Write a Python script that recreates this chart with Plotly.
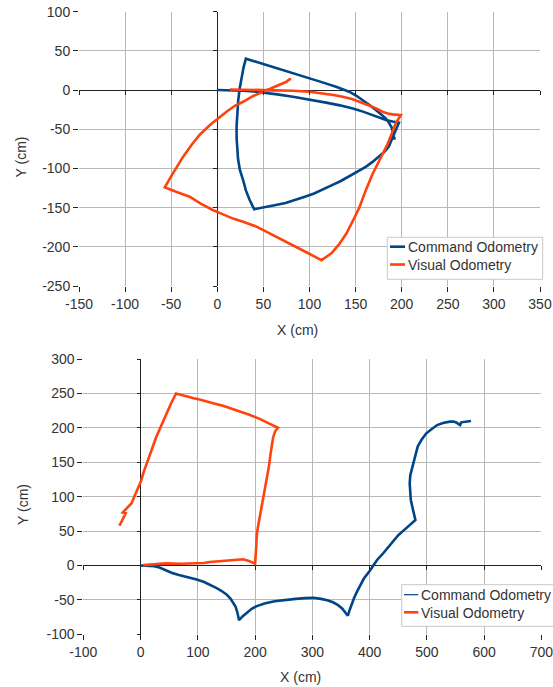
import plotly.graph_objects as go

# ---------------- data (cm) ----------------
# Top chart: Command odometry
cmd1_x = [0, 15, 28, 40, 50, 65, 82, 100, 118, 133, 147, 158, 168, 176, 183, 190, 197,
          195, 193, 189, 186, 181, 175.5, 168, 161, 152, 143, 134, 125, 115, 105, 95, 85, 74, 62, 50, 40,
          35, 31, 28, 24.5, 22.5, 21.6, 21, 20.9, 21.5, 22.7, 24.3, 26.3, 28.5, 31,
          48, 64, 82, 100, 115, 128.8, 143, 150.5, 157.6, 165, 172, 177.5, 182.7, 186, 189, 190.5,
          191.7, 193.5]
cmd1_y = [0, 0, -0.8, -1.8, -3, -5.5, -8.5, -12, -16, -19.5, -23.4, -27.5, -31.9, -35, -38.2, -40.2, -41.6,
          -47, -53, -63, -72, -79, -85, -92, -98, -104, -110.5, -116, -121, -127, -132, -136, -140, -144, -147,
          -150, -152,
          -140, -128, -115, -102, -88, -76.5, -62, -46.7, -30, -12.7, 2, 17, 29, 40,
          34, 27.6, 21.3, 14.9, 9.5, 4.2, -2.1, -7, -12.7, -19, -25.5, -30.5, -36, -41.5, -47.6, -54,
          -61.6, -61.6]
# Top chart: Visual odometry
vis1_x = [13.7, 30, 46, 64, 82, 100, 114, 126, 136, 146, 154, 162, 168, 174, 179, 185, 190, 199,
          196, 193.5, 189, 185, 180, 174, 168, 161, 154, 147, 140, 132, 124, 118, 113,
          95, 78, 60, 42, 28, 17, 5, -5, -18, -30, -44, -57,
          -48, -37, -28, -19, -8, 2, 10, 19, 28, 38, 49.6, 57, 64, 69, 75, 78, 80]
vis1_y = [0.8, 0.5, 0, -0.3, -0.8, -2.2, -4.2, -6.2, -8.5, -11.5, -14.9, -18.3, -21.2, -24.5, -27.6,
          -29.8, -31, -32,
          -37, -42.5, -56, -68, -80, -94, -108, -128, -150, -167, -183, -197, -208, -213, -217,
          -206, -196, -185, -174, -168, -164, -158, -153, -145, -136, -130, -124,
          -106, -85, -70, -57, -44.6, -35, -27.6, -20, -14.9, -8, -2.1, 1, 4.2, 7.2, 10.6, 13.6, 14.5]

# Bottom chart: Command odometry
cmd2_x = [0, 12, 24, 33, 43, 55, 67, 82, 98, 111, 123, 133, 141, 150, 157, 162, 166, 169, 172,
          178, 185, 194, 203, 218, 234, 252, 271, 287, 302, 315, 326, 336, 345, 352, 357, 362,
          365, 368, 373, 378, 382, 390, 401, 413, 422, 431, 440, 450, 465, 480,
          476, 472, 471, 470, 471, 475, 479, 484, 491, 499, 508, 518, 528, 540, 547, 552, 556, 558,
          560, 566, 577]
cmd2_y = [0, 0, -1, -3, -7, -11, -14, -17, -20.4, -24, -28.6, -33, -36.8, -42, -48, -54, -60, -68, -79.5,
          -74, -68.8, -63, -59, -55, -52, -50, -48.5, -47.5, -47, -48.5, -50.4, -53.5, -57.7, -62.5, -67.4,
          -73,
          -65, -57, -47, -38, -31, -19, -7, 8, 16, 25, 34, 44, 55, 66,
          80, 95, 107, 119, 131, 143, 158, 173, 183, 192, 198, 204, 207, 209, 209, 207.5, 205, 204,
          208, 209, 210]
# Bottom chart: Visual odometry
vis2_x = [5, 20, 45, 70, 91, 110, 121, 140, 161, 172, 179, 188, 200,
          202, 203, 205, 208, 211, 215, 220, 224, 227, 231.5, 235, 240,
          225, 208, 190, 173, 158, 144, 135, 126.5, 115, 103, 93, 83, 73, 62,
          53, 45, 36, 27, 19, 10, 5, 1, -4, -8, -12, -16, -22, -28, -31, -26, -29, -33, -37]
vis2_y = [0.5, 1.5, 3, 2.5, 2.5, 3.5, 5, 6, 7, 8.5, 9, 7, 2.5,
          27, 45, 56, 70, 85, 104, 123, 143, 162, 186, 195, 200,
          206, 213, 219, 224, 229, 232, 234, 236, 239, 241, 243, 245, 247, 250,
          235, 220, 203, 186, 167, 148, 135, 123, 113, 104, 96, 90, 85, 80, 77, 76, 70, 64, 58]

series_names = ["Command Odometry", "Visual Odometry"]
top_xticks = list(range(-150, 351, 50))
top_yticks = list(range(-250, 101, 50))
bot_xticks = list(range(-100, 701, 100))
bot_yticks = list(range(-100, 301, 50))

# ---------------- style ----------------
W, H = 553, 687
BLUE = "#004586"
ORANGE = "#ff420e"
GRID = "#b8b8b8"
TXT = "#333333"
FONT = "Liberation Sans, Arial, sans-serif"


def px(x):
    """page pixel x -> paper fraction"""
    return x / W


def py(y):
    """page pixel y -> paper fraction"""
    return 1 - y / H


top_xdom = [px(79), px(540)]
top_ydom = [py(286), py(11.7)]
bot_xdom = [px(83.3), px(541.4)]
bot_ydom = [py(634.3), py(359)]

top_xr = [top_xticks[0], top_xticks[-1]]
top_yr = [top_yticks[0], top_yticks[-1]]
bot_xr = [bot_xticks[0], bot_xticks[-1]]
bot_yr = [bot_yticks[0], bot_yticks[-1]]


def zero_pos(dom, rng):
    return dom[0] + (0 - rng[0]) / (rng[1] - rng[0]) * (dom[1] - dom[0])


fig = go.Figure()
lw = 2.6
fig.add_trace(go.Scatter(x=cmd1_x, y=cmd1_y, mode="lines", name=series_names[0],
                         line=dict(color=BLUE, width=lw), xaxis="x", yaxis="y", showlegend=False))
fig.add_trace(go.Scatter(x=vis1_x, y=vis1_y, mode="lines", name=series_names[1],
                         line=dict(color=ORANGE, width=lw), xaxis="x", yaxis="y", showlegend=False))
fig.add_trace(go.Scatter(x=cmd2_x, y=cmd2_y, mode="lines", name=series_names[0],
                         line=dict(color=BLUE, width=lw), xaxis="x2", yaxis="y2", showlegend=False))
fig.add_trace(go.Scatter(x=vis2_x, y=vis2_y, mode="lines", name=series_names[1],
                         line=dict(color=ORANGE, width=lw), xaxis="x2", yaxis="y2", showlegend=False))
# empty traces to activate the zero-line tick axes
fig.add_trace(go.Scatter(x=[], y=[], xaxis="x3", yaxis="y3", showlegend=False, hoverinfo="skip"))
fig.add_trace(go.Scatter(x=[], y=[], xaxis="x4", yaxis="y4", showlegend=False, hoverinfo="skip"))

tickfont = dict(family=FONT, size=14, color=TXT)


def labels(ticks):
    return [str(t) for t in ticks]  # plain hyphen-minus as in the reference


def main_axis(dom, rng, ticks, anchor):
    return dict(domain=dom, range=rng, tickvals=ticks, ticktext=labels(ticks), anchor=anchor,
                automargin=False, ticklabeloverflow="allow", showgrid=True,
                gridcolor=GRID, gridwidth=1, zeroline=True, zerolinecolor="#222222",
                zerolinewidth=1.3, showline=False, ticks="outside", ticklen=5,
                tickcolor="#222222", tickwidth=1, tickfont=tickfont, fixedrange=True)


def tick_axis(dom, rng, ticks, overlay, pos, side):
    return dict(domain=dom, range=rng, tickvals=ticks, overlaying=overlay, anchor="free",
                automargin=False, position=pos, side=side, showgrid=False, zeroline=False,
                showline=False, ticks="outside", ticklen=4, tickcolor="#222222", tickwidth=1,
                showticklabels=False, fixedrange=True)


fig.update_layout(
    width=W, height=H, margin=dict(l=0, r=0, t=0, b=0, pad=0),
    paper_bgcolor="white", plot_bgcolor="white",
    font=dict(family=FONT, size=14, color=TXT),
    xaxis=main_axis(top_xdom, top_xr, top_xticks, "y"),
    yaxis=main_axis(top_ydom, top_yr, top_yticks, "x"),
    xaxis2=main_axis(bot_xdom, bot_xr, bot_xticks, "y2"),
    yaxis2=main_axis(bot_ydom, bot_yr, bot_yticks, "x2"),
    xaxis3=tick_axis(top_xdom, top_xr, top_xticks, "x", zero_pos(top_ydom, top_yr), "bottom"),
    yaxis3=tick_axis(top_ydom, top_yr, top_yticks, "y", zero_pos(top_xdom, top_xr), "left"),
    xaxis4=tick_axis(bot_xdom, bot_xr, bot_xticks, "x2", zero_pos(bot_ydom, bot_yr), "bottom"),
    yaxis4=tick_axis(bot_ydom, bot_yr, bot_yticks, "y2", zero_pos(bot_xdom, bot_xr), "left"),
)

shapes = []
annotations = []

# axis titles
for text, x, y, ang in [("X (cm)", 297, 330, 0), ("Y (cm)", 20.5, 157, -90),
                        ("X (cm)", 300, 676.5, 0), ("Y (cm)", 23, 505, -90)]:
    annotations.append(dict(text=text, x=px(x), y=py(y), xref="paper", yref="paper",
                            showarrow=False, textangle=ang, xanchor="center", yanchor="middle",
                            font=dict(family=FONT, size=14, color=TXT)))

# legends
legends = [
    dict(box=(387.3, 237.3, 542.7, 279.3), lx=(390, 405), tx=406, ys=(246.7, 264.5),
         widths=(lw, lw)),
    dict(box=(401.7, 584.7, 556, 626.3), lx=(404, 418.3), tx=419.3, ys=(594.7, 612.3),
         widths=(1.2, lw)),
]
for lg in legends:
    x0, y0, x1, y1 = lg["box"]
    shapes.append(dict(type="rect", xref="paper", yref="paper", x0=px(x0), x1=px(x1),
                       y0=py(y1), y1=py(y0), line=dict(color="#c8c8c8", width=1),
                       fillcolor="white", layer="above"))
    for name, color, yy, wdt in zip(series_names, [BLUE, ORANGE], lg["ys"], lg["widths"]):
        shapes.append(dict(type="line", xref="paper", yref="paper", x0=px(lg["lx"][0]),
                           x1=px(lg["lx"][1]), y0=py(yy), y1=py(yy),
                           line=dict(color=color, width=wdt), layer="above"))
        annotations.append(dict(text=name, x=px(lg["tx"]), y=py(yy + 0.5), xref="paper",
                                yref="paper", showarrow=False, xanchor="left", yanchor="middle",
                                font=dict(family=FONT, size=14, color=TXT)))

fig.update_layout(shapes=shapes, annotations=annotations)
# place the figure at the page origin (no default body margin, no scrollbars)
fig.write_html("out.html",
               config={"displayModeBar": False},
               post_script="document.body.style.margin='0';"
                           "document.body.style.overflow='hidden';")
